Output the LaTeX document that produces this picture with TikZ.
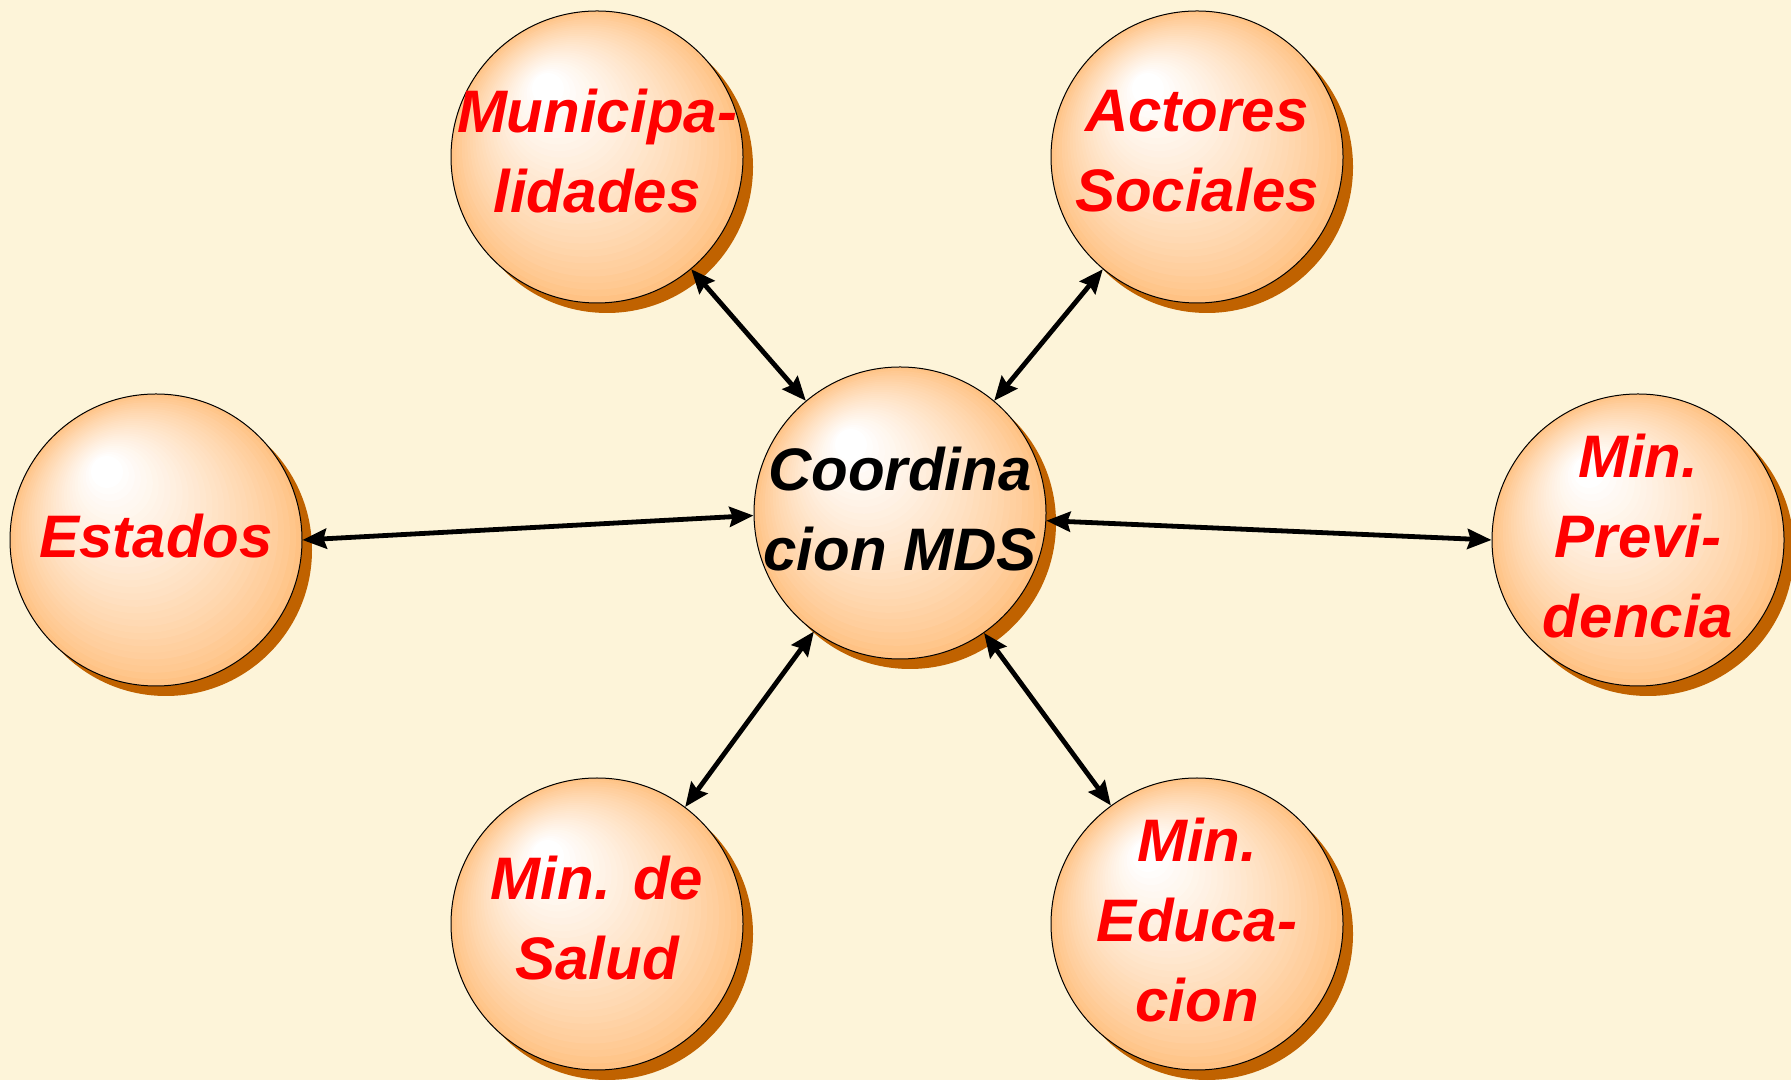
\documentclass[tikz,border=0pt]{standalone}
\usepackage{fontspec}
\setmainfont{Liberation Sans}
\usetikzlibrary{arrows.meta,shadows}

\definecolor{fondo}{RGB}{253,244,217}
\definecolor{bolarim}{RGB}{255,194,132}
\definecolor{bolasombra}{RGB}{192,98,0}
\definecolor{rojo}{RGB}{255,0,0}

\tikzset{
	bola/.style={circle, draw=black, line width=0.5pt, minimum size=146pt, inner sep=0pt, fill=bolarim,
		drop shadow={shadow xshift=5pt, shadow yshift=-5pt, fill=bolasombra, opacity=1},
		path picture={
			\foreach \k in {0,...,30}{
				\pgfmathsetmacro{\t}{\k/30}
				\pgfmathtruncatemacro{\p}{100*\t^0.8}
				\fill[white!\p!bolarim, shift={(path picture bounding box.center)}] (-49*\t,68*\t) circle[radius=146-130*\t];
			}
		}},
	texto/.style={text=rojo, align=center, yshift=2pt, font=\fontsize{30}{40}\selectfont\bfseries\itshape},
	enlace/.style={line width=2.4pt, {Stealth[length=12pt,width=10pt,inset=1.5pt]}-{Stealth[length=12pt,width=10pt,inset=1.5pt]}}
}

\begin{document}
\begin{tikzpicture}[x=0.5pt,y=0.5pt]

	\fill[fondo] (0,0) rectangle (1791,1080);
	\useasboundingbox (0,0) rectangle (1791,1080);

	\node[bola] (mds) at (900,567) {};
	\node[bola] (muni) at (597,923) {};
	\node[bola] (actores) at (1197,923) {};
	\node[bola] (estados) at (156,540) {};
	\node[bola] (prev) at (1638,540) {};
	\node[bola] (salud) at (597,156) {};
	\node[bola] (educ) at (1197,156) {};

	\node[texto, text=black] (mds-t) at (mds) {Coordina\\cion MDS};
	\node[texto] (muni-t) at ([yshift=1pt]muni) {Municipa-\\lidades};
	\node[texto] (actores-t) at ([yshift=1pt]actores) {Actores\\Sociales};
	\node[texto] (estados-t) at (estados) {Estados};
	\node[texto] (prev-t) at (prev) {Min.\\Previ-\\dencia};
	\node[texto] (salud-t) at ([yshift=1pt]salud) {Min. de\\Salud};
	\node[texto] (educ-t) at (educ) {Min.\\Educa-\\cion};

	\draw[enlace] (mds.130.6) -- (muni.310);
	\draw[enlace] (mds.50) -- (actores.230.7);
	\draw[enlace] (mds.181) -- (estados.0);
	\draw[enlace] (mds.357) -- (prev.180.5);
	\draw[enlace] (mds.234.5) -- (salud.53.5);
	\draw[enlace] (mds.305) -- (educ.126.5);

\end{tikzpicture}
\end{document}
